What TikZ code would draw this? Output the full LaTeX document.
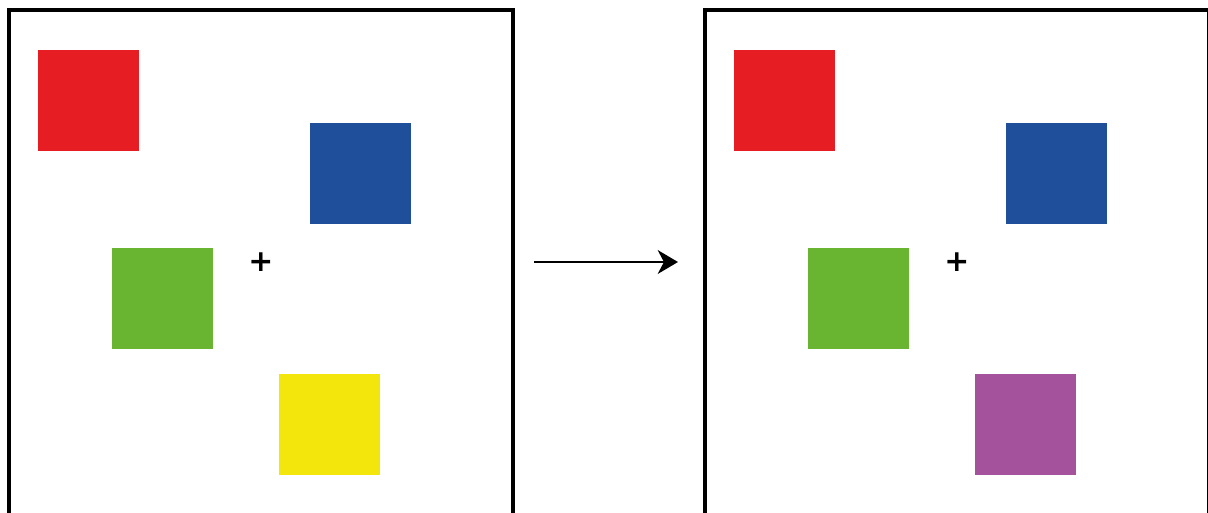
\documentclass[tikz,border=0pt]{standalone}
\usepackage{fontspec}
\usetikzlibrary{arrows.meta}
\newfontfamily\plusfont{DejaVu Sans}
\definecolor{sqred}{HTML}{E61E24}
\definecolor{sqblue}{HTML}{1F4E9A}
\definecolor{sqgreen}{HTML}{69B431}
\definecolor{sqyellow}{HTML}{F2E60D}
\definecolor{sqpurple}{HTML}{A4529C}
\tikzset{
	square/.style = {minimum size = 2.02cm, inner sep = 0pt, outer sep = 0pt},
	frame/.style = {draw, line width = 1.9pt}
}

\begin{document}
\begin{tikzpicture}[x = 0.02cm, y = -0.02cm]
	\useasboundingbox (0,0) rectangle (1208,512);
	\clip (0,0) rectangle (1208,512);
	\foreach \dx/\last/\i in {0/sqyellow/1, 696/sqpurple/2} {
		\draw[frame] (\dx+9,10) rectangle (\dx+513,530);
		\node[square, fill = sqred, anchor = north west] (red\i) at (\dx+38,50) {};
		\node[square, fill = sqblue, anchor = north west] (blue\i) at (\dx+310,123) {};
		\node[square, fill = sqgreen, anchor = north west] (green\i) at (\dx+112,248) {};
		\node[square, fill = \last, anchor = north west] (last\i) at (\dx+279,374) {};
		\node[font = \plusfont\bfseries\fontsize{17}{17}\selectfont, inner sep = 0pt] (plus\i) at (\dx+261,262) {+};
	}
	\coordinate (from) at (534,262);
	\coordinate (to) at (678,262);
	\draw[line width = 1.5pt, -{Stealth[length = 11.5pt, width = 13.5pt, inset = 3.5pt]}] (from) -- (to);
\end{tikzpicture}
\end{document}
